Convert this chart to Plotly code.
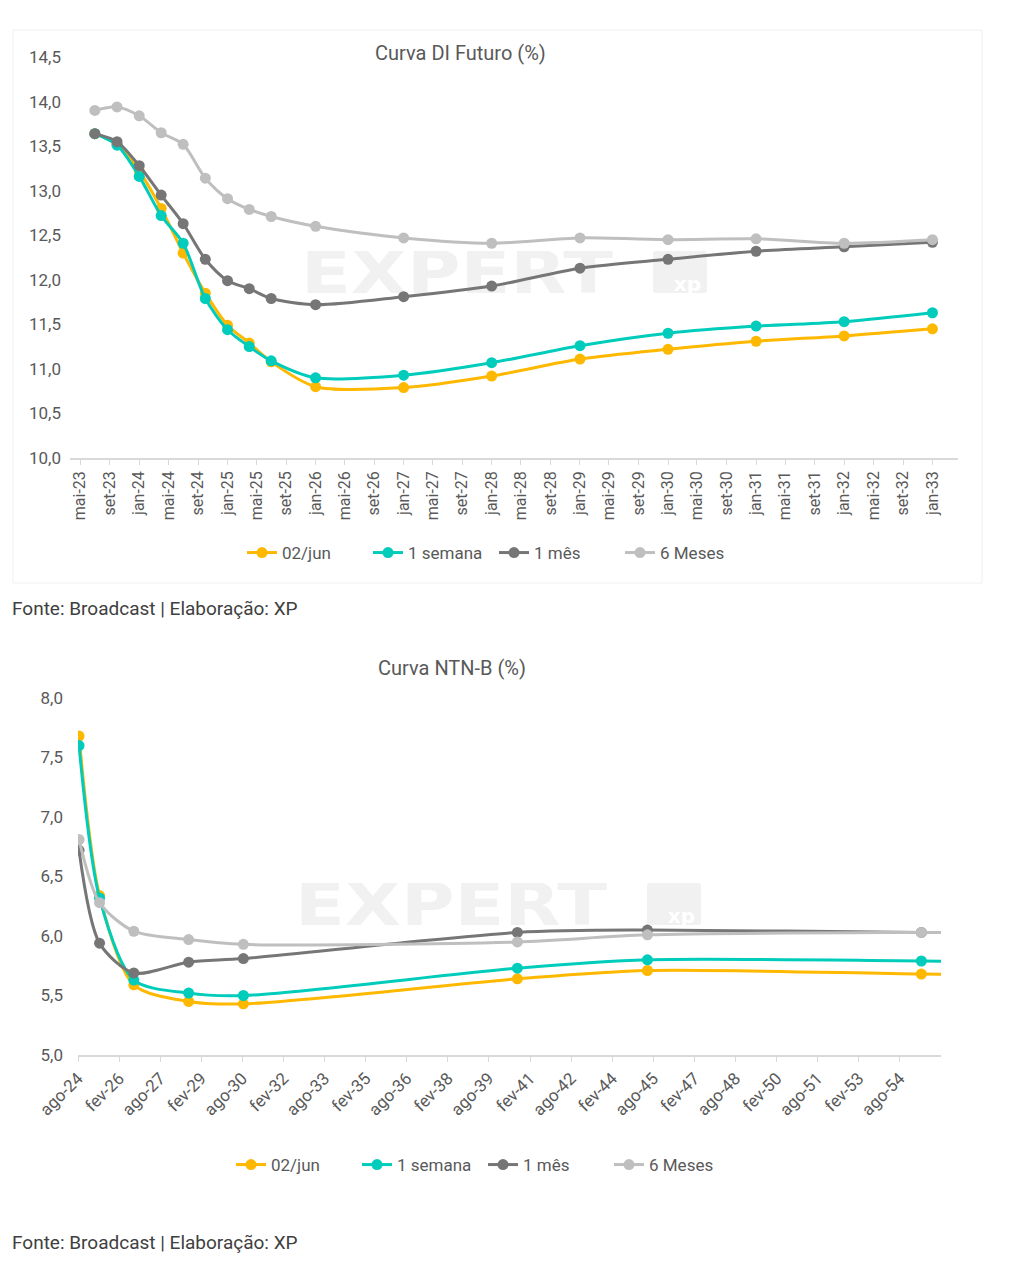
import base64
import pandas as pd
import plotly.graph_objects as go

W, H = 1010, 1286
PAGE_PAD = 8  # the browser puts an 8px body margin around the figure

# Colors
YELLOW = '#FFB800'
TEAL = '#00CCBC'
DARK = '#767676'
LIGHT = '#BFBFBF'
TXT = '#595959'
AXIS = '#D9D9D9'

series_names = ['02/jun', '1 semana', '1 mês', '6 Meses']
series_colors = [YELLOW, TEAL, DARK, LIGHT]

# DI Futuro curve
di_dates = ['2023-07-01', '2023-10-01', '2024-01-01', '2024-04-01', '2024-07-01', '2024-10-01',
            '2025-01-01', '2025-04-01', '2025-07-01', '2026-01-01', '2027-01-01', '2028-01-01',
            '2029-01-01', '2030-01-01', '2031-01-01', '2032-01-01', '2033-01-01']
di_02jun = [13.64, 13.52, 13.22, 12.80, 12.30, 11.85, 11.49, 11.29, 11.08, 10.80, 10.79, 10.92,
            11.11, 11.22, 11.31, 11.37, 11.45]
di_1sem = [13.64, 13.51, 13.16, 12.72, 12.41, 11.79, 11.44, 11.25, 11.09, 10.90, 10.93, 11.07,
           11.26, 11.40, 11.48, 11.53, 11.63]
di_1mes = [13.64, 13.55, 13.28, 12.95, 12.63, 12.23, 11.99, 11.90, 11.79, 11.72, 11.81, 11.93,
           12.13, 12.23, 12.32, 12.37, 12.42]
di_6m = [13.90, 13.94, 13.84, 13.65, 13.52, 13.14, 12.91, 12.79, 12.71, 12.60, 12.47, 12.41,
         12.47, 12.45, 12.46, 12.41, 12.45]
di_ticks = ['mai-23', 'set-23', 'jan-24', 'mai-24', 'set-24', 'jan-25', 'mai-25', 'set-25',
            'jan-26', 'mai-26', 'set-26', 'jan-27', 'mai-27', 'set-27', 'jan-28', 'mai-28',
            'set-28', 'jan-29', 'mai-29', 'set-29', 'jan-30', 'mai-30', 'set-30', 'jan-31',
            'mai-31', 'set-31', 'jan-32', 'mai-32', 'set-32', 'jan-33']

# NTN-B curve (last maturity runs past the axis end)
ntnb_dates = ['2024-08-15', '2025-05-15', '2026-08-15', '2028-08-15', '2030-08-15',
              '2040-08-15', '2045-05-15', '2055-05-15', '2060-08-15']
ntnb_02jun = [7.68, 6.34, 5.59, 5.45, 5.43, 5.64, 5.71, 5.68, 5.67]
ntnb_1sem = [7.60, 6.32, 5.63, 5.52, 5.50, 5.73, 5.80, 5.79, 5.78]
ntnb_1mes = [6.72, 5.94, 5.69, 5.78, 5.81, 6.03, 6.05, 6.03, 6.03]
ntnb_6m = [6.81, 6.28, 6.04, 5.97, 5.93, 5.95, 6.01, 6.03, 6.03]
ntnb_ticks = ['ago-24', 'fev-26', 'ago-27', 'fev-29', 'ago-30', 'fev-32', 'ago-33', 'fev-35',
              'ago-36', 'fev-38', 'ago-39', 'fev-41', 'ago-42', 'fev-44', 'ago-45', 'fev-47',
              'ago-48', 'fev-50', 'ago-51', 'fev-53', 'ago-54']

di_tickvals = pd.date_range('2023-05-01', periods=len(di_ticks), freq='4MS')
ntnb_tickvals = pd.date_range('2024-08-01', periods=len(ntnb_ticks), freq='18MS')


def px_x(v):
    return (v - PAGE_PAD) / W


def px_y(v):
    return 1 - (v - PAGE_PAD) / H


fig = go.Figure()

for name, color, vals in zip(series_names, series_colors, [di_02jun, di_1sem, di_1mes, di_6m]):
    fig.add_trace(go.Scatter(
        x=di_dates, y=vals, name=name, mode='lines+markers',
        line=dict(color=color, width=3, shape='spline', smoothing=0.8),
        marker=dict(color=color, size=11),
        xaxis='x', yaxis='y', legend='legend'))

for name, color, vals in zip(series_names, series_colors, [ntnb_02jun, ntnb_1sem, ntnb_1mes, ntnb_6m]):
    fig.add_trace(go.Scatter(
        x=ntnb_dates, y=vals, name=name, mode='lines+markers',
        line=dict(color=color, width=3, shape='spline', smoothing=0.8),
        marker=dict(color=color, size=11),
        xaxis='x2', yaxis='y2', legend='legend2'))

xtick_font = dict(family='Roboto', size=16, color=TXT)
ytick_font = dict(family='Roboto', size=17, color=TXT)
leg_font = dict(family='Roboto', size=17, color=TXT)

fig.update_layout(
    width=W, height=H,
    margin=dict(l=0, r=0, t=0, b=0, autoexpand=False),
    paper_bgcolor='white', plot_bgcolor='rgba(0,0,0,0)',
    separators=',.',
    font=dict(family='Roboto', color=TXT),
    xaxis=dict(domain=[px_x(70), px_x(958)], anchor='y', type='date', automargin=False,
               range=['2023-03-20', '2033-04-17'],
               tickvals=di_tickvals, ticktext=di_ticks, tickangle=-90,
               tickfont=xtick_font, showgrid=False, zeroline=False,
               showline=True, linecolor=AXIS, linewidth=1.5,
               ticks='outside', tickcolor=AXIS, ticklen=5),
    yaxis=dict(domain=[px_y(458), px_y(57)], anchor='x', range=[10, 14.5], dtick=0.5,
               automargin=False, tickformat='.1f', tickfont=ytick_font, showgrid=False,
               zeroline=False, showline=False, ticklabelstandoff=8),
    xaxis2=dict(domain=[px_x(78), px_x(941)], anchor='y2', type='date', automargin=False,
                range=['2024-08-01', '2056-02-01'],
                tickvals=ntnb_tickvals, ticktext=ntnb_ticks, tickangle=-45,
                tickfont=dict(family='Roboto', size=17, color=TXT), showgrid=False,
                zeroline=False, showline=True, linecolor=AXIS, linewidth=1.5,
                ticks='outside', tickcolor=AXIS, ticklen=5),
    yaxis2=dict(domain=[px_y(1055), px_y(698)], anchor='x2', range=[5, 8], dtick=0.5,
                automargin=False, tickformat='.1f', tickfont=ytick_font, showgrid=False,
                zeroline=False, showline=False, ticklabelstandoff=14),
    legend=dict(orientation='h', x=px_x(242), xanchor='left', y=px_y(553), yanchor='middle',
                font=leg_font, entrywidth=81, bgcolor='rgba(0,0,0,0)'),
    legend2=dict(orientation='h', x=px_x(231), xanchor='left', y=px_y(1165), yanchor='middle',
                 font=leg_font, entrywidth=81, bgcolor='rgba(0,0,0,0)'),
)

# Titles and source notes
fig.add_annotation(text='Curva DI Futuro (%)', x=px_x(460), y=px_y(53), xref='paper', yref='paper',
                   xanchor='center', yanchor='middle', showarrow=False,
                   font=dict(family='Roboto', size=20, color=TXT))
fig.add_annotation(text='Curva NTN-B (%)', x=px_x(452), y=px_y(668), xref='paper', yref='paper',
                   xanchor='center', yanchor='middle', showarrow=False,
                   font=dict(family='Roboto', size=20, color=TXT))
for yy in [608, 1242]:
    fig.add_annotation(text='Fonte: Broadcast | Elaboração: XP', x=px_x(10), y=px_y(yy),
                       xref='paper', yref='paper', xanchor='left', yanchor='middle',
                       showarrow=False, font=dict(family='Roboto', size=19, color='#404040'))

# faint frame around the first chart
fig.add_shape(type='rect', xref='paper', yref='paper', x0=px_x(13), x1=px_x(982),
              y0=px_y(583), y1=px_y(30), line=dict(color='#F0F0F0', width=1), layer='below')

# watermark behind the curves
wm_svg = (
    "<svg xmlns='http://www.w3.org/2000/svg' width='410' height='44' viewBox='0 0 410 44'>"
    "<text x='0' y='42' font-family='DejaVu Sans' font-weight='bold' font-size='58' fill='#F1F1F1' "
    "textLength='312' lengthAdjust='spacingAndGlyphs'>EXPERT</text>"
    "<rect x='352' y='0' width='54' height='42' rx='3' fill='#F1F1F1'/>"
    "<text x='400' y='40' font-family='DejaVu Sans' font-weight='bold' font-size='20' "
    "fill='#FFFFFF' text-anchor='end'>xp</text></svg>"
)
wm_src = 'data:image/svg+xml;base64,' + base64.b64encode(wm_svg.encode()).decode()
for wx, wy in [(301, 251), (295, 883)]:
    fig.add_layout_image(source=wm_src, xref='paper', yref='paper', x=px_x(wx), y=px_y(wy),
                         sizex=410 / W, sizey=44 / H, xanchor='left', yanchor='top',
                         sizing='stretch', layer='below')

fig.write_html('out.html')
